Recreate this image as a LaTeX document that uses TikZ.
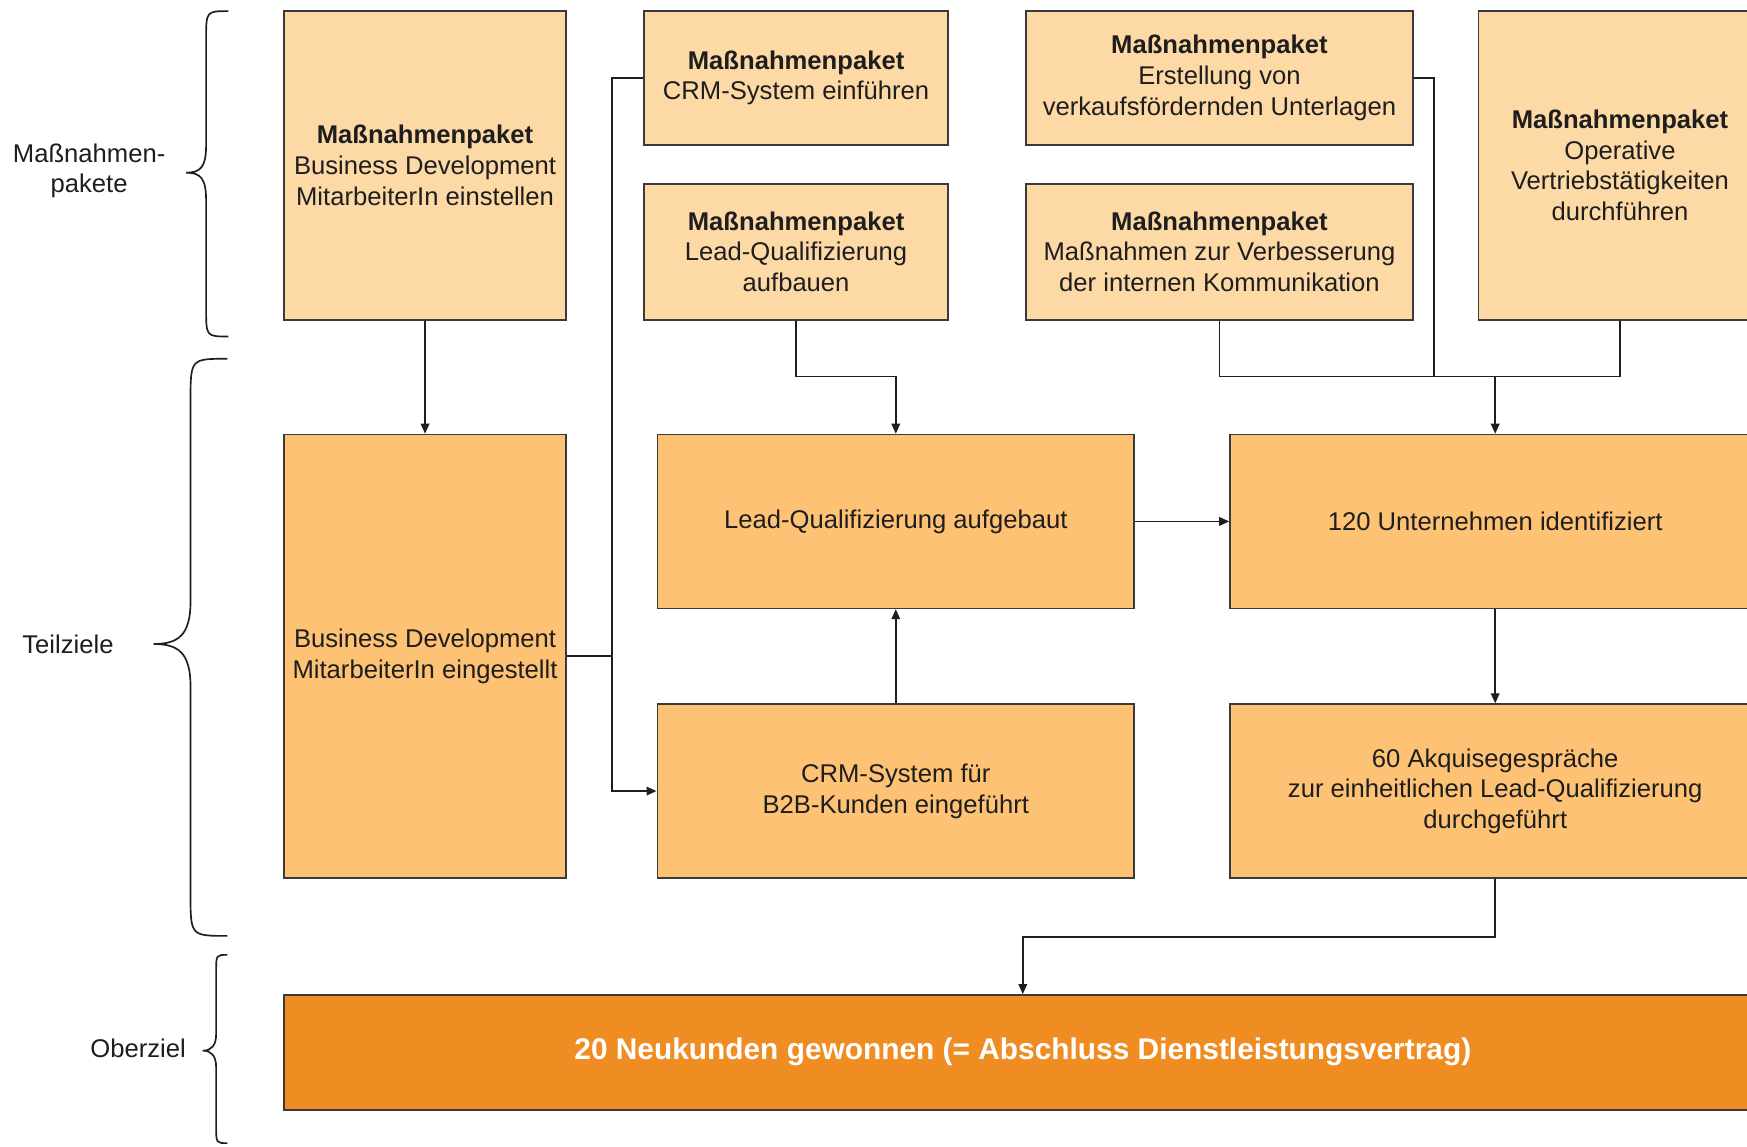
\documentclass[tikz,border=0pt]{standalone}
\usepackage{fontspec}
\setmainfont{Liberation Sans}
\usetikzlibrary{arrows.meta}
\definecolor{paketfill}{HTML}{FDD9A6}
\definecolor{zielfill}{HTML}{FDC274}
\definecolor{oberfill}{HTML}{F08D22}
\definecolor{edgegray}{HTML}{3A3A3A}
\definecolor{inkcol}{HTML}{1E1E1E}
\begin{document}
\begin{tikzpicture}[x=0.5pt,y=-0.5pt,
  txt/.style={font=\fontsize{11.5}{13.75}\selectfont, align=center, text=inkcol},
  box/.style args={#1/#2}{draw=edgegray, line width=0.7pt, minimum width=#1*0.5pt,
    minimum height=#2*0.5pt, inner sep=0pt, txt},
  paket/.style={box=#1, fill=paketfill},
  ziel/.style={box=#1, fill=zielfill},
  ober/.style={box=#1, fill=oberfill, text=white,
    font=\fontsize{13.4}{16}\selectfont\bfseries},
  ln/.style={draw=inkcol, line width=0.8pt},
  arr/.style={ln, -{Triangle[length=4.5pt,width=3.8pt]}},
  brc/.style={draw=inkcol, line width=0.75pt}]

% page frame; the right column runs past the edge
\clip (0,0) rectangle (1568,1029);
\fill[white] (0,0) rectangle (1568,1029);

% group labels with braces
\node[txt] (lblpakete) at (80,153.5) {Maßnahmen-\\pakete};
\node[txt] (lblteil) at (61,578) {Teilziele};
\node[txt] (lblober) at (124,941) {Oberziel};

\draw[brc] (205,10) .. controls (185,10) .. (185,35) -- (185,130)
  .. controls (185,150) and (180,155) .. (167,155)
  .. controls (180,155) and (185,160) .. (185,180) -- (185,277)
  .. controls (185,302) .. (205,302);
\draw[brc] (204,322) .. controls (171,322) .. (171,360) -- (171,540)
  .. controls (171,570) and (160,578) .. (138,578)
  .. controls (160,578) and (171,586) .. (171,616) -- (171,802)
  .. controls (171,840) .. (204,840);
\draw[brc] (204,857) .. controls (194,857) .. (194,872) -- (194,928)
  .. controls (194,938) and (190,943) .. (182,943)
  .. controls (190,943) and (194,948) .. (194,958) -- (194,1011)
  .. controls (194,1026) .. (204,1026);

% Maßnahmenpakete
\node[paket=253/277] (p1) at (381.5,148.5)
  {\textbf{Maßnahmenpaket}\\Business Development\\MitarbeiterIn einstellen};
\node[paket=273/120] (p2) at (714.5,70)
  {\textbf{Maßnahmenpaket}\\CRM-System einführen};
\node[paket=273/122] (p3) at (714.5,226)
  {\textbf{Maßnahmenpaket}\\Lead-Qualifizierung\\aufbauen};
\node[paket=347/120] (p4) at (1094.5,70)
  {\textbf{Maßnahmenpaket}\\Erstellung von\\verkaufsfördernden Unterlagen};
\node[paket=347/122] (p5) at (1094.5,226)
  {\textbf{Maßnahmenpaket}\\Maßnahmen zur Verbesserung\\der internen Kommunikation};
\node[paket=254/277] (p6) at (1454,148.5)
  {\textbf{Maßnahmenpaket}\\Operative\\Vertriebstätigkeiten\\durchführen};

% Teilziele
\node[ziel=253/398] (t1) at (381.5,589)
  {Business Development\\MitarbeiterIn eingestellt};
\node[ziel=428/156] (t2) at (804,468) {Lead-Qualifizierung aufgebaut};
\node[ziel=476/156] (t3) at (1342,468) {120 Unternehmen identifiziert};
\node[ziel=428/156] (t4) at (804,710) {CRM-System für\\B2B-Kunden eingeführt};
\node[ziel=476/156] (t5) at (1342,710)
  {60 Akquisegespräche\\zur einheitlichen Lead-Qualifizierung\\durchgeführt};

% Oberziel
\node[ober=1326/103] (o) at (918,944.5)
  {20 Neukunden gewonnen (= Abschluss Dienstleistungsvertrag)};

% junction points of the connectors
\coordinate (bus) at (549,0);
\coordinate (joinA) at (0,338);
\coordinate (k4) at (1287,338);

% connectors
\draw[arr] (p1.south) -- (t1.north);
\draw[ln] (p2.west) -- (p2.west -| bus) -- (t1.east -| bus);
\draw[arr] (t1.east) -- (t1.east -| bus) |- (t4.west);
\draw[arr] (p3.south) -- (p3.south |- joinA) -| (t2.north);
\draw[arr] (t4.north) -- (t2.south);
\draw[arr] (t2.east) -- (t3.west);
\draw[ln] (p4.east) -| (k4);
\draw[ln] (p5.south) |- (k4);
\draw[ln] (p6.south) |- (k4);
\draw[arr] (t3.north |- k4) -- (t3.north);
\draw[arr] (t3.south) -- (t5.north);
\draw[arr] (t5.south) -- ++(0,52) -| (o.north);
\end{tikzpicture}
\end{document}
